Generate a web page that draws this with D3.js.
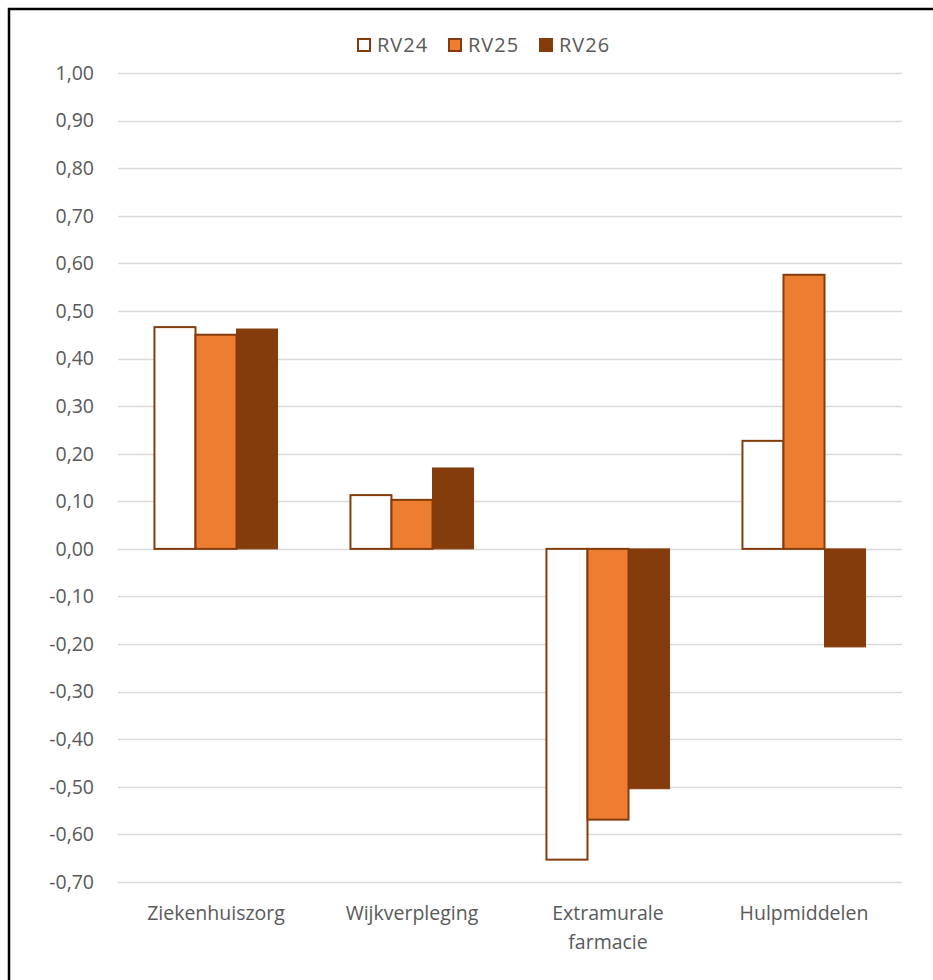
<!DOCTYPE html>
<html>
<head>
<meta charset="utf-8">
<script src="https://cdn.jsdelivr.net/npm/d3@7"></script>
<style>
  body { margin: 0; background: #fff; }
  text { font-family: "Open Sans", "Noto Sans", sans-serif; fill: #595959; }
</style>
</head>
<body>
<div id="chart"></div>
<script>
const categories = ["Ziekenhuiszorg", "Wijkverpleging", "Extramurale farmacie", "Hulpmiddelen"];
const seriesNames = ["RV24", "RV25", "RV26"];
const rv24 = [0.466, 0.113, -0.653, 0.227];
const rv25 = [0.450, 0.103, -0.569, 0.576];
const rv26 = [0.462, 0.170, -0.504, -0.206];
const yTicks = [1.0, 0.9, 0.8, 0.7, 0.6, 0.5, 0.4, 0.3, 0.2, 0.1, 0, -0.1, -0.2, -0.3, -0.4, -0.5, -0.6, -0.7];

const fills = ["#ffffff", "#ed7d31", "#843c0c"];
const strokes = ["#843c0c", "#843c0c", "#843c0c"];

const W = 933, H = 980;
const margin = { top: 73, right: 31, bottom: 98, left: 118 };

const svg = d3.select("#chart").append("svg")
    .attr("width", W)
    .attr("height", H);

// outer frame (runs off the right and bottom edge like the source)
svg.append("rect")
    .attr("x", 9).attr("y", 9)
    .attr("width", 960).attr("height", 1000)
    .attr("fill", "none")
    .attr("stroke", "#000")
    .attr("stroke-width", 2.5);

const x0 = d3.scaleBand()
    .domain(categories)
    .range([margin.left, W - margin.right])
    .paddingInner(0.372)
    .paddingOuter(0.186);

const x1 = d3.scaleBand()
    .domain(seriesNames)
    .range([0, x0.bandwidth()]);

const y = d3.scaleLinear()
    .domain([-0.7, 1.0])
    .range([H - margin.bottom, margin.top]);

// gridlines
svg.append("g")
    .selectAll("line")
    .data(yTicks)
    .enter()
    .append("line")
    .attr("x1", margin.left)
    .attr("x2", W - margin.right)
    .attr("y1", d => Math.round(y(d)) + 0.5)
    .attr("y2", d => Math.round(y(d)) + 0.5)
    .style("stroke", "#d9d9d9")
    .style("stroke-width", 1.5);

// y labels
const fmt = d => d3.format(".2f")(d).replace(".", ",").replace("−", "-");
svg.append("g")
    .selectAll("text")
    .data(yTicks)
    .enter()
    .append("text")
    .attr("x", 94)
    .attr("y", d => y(d))
    .attr("dy", "0.35em")
    .attr("text-anchor", "end")
    .style("font-size", "19.5px")
    .text(fmt);

// bars
const series = [rv24, rv25, rv26];
series.forEach((vals, s) => {
    svg.append("g")
        .selectAll("rect")
        .data(vals)
        .enter()
        .append("rect")
        .attr("x", (d, i) => x0(categories[i]) + x1(seriesNames[s]))
        .attr("y", d => y(Math.max(0, d)))
        .attr("width", x1.bandwidth())
        .attr("height", d => Math.abs(y(d) - y(0)))
        .attr("fill", fills[s])
        .attr("stroke", strokes[s])
        .attr("stroke-width", s === 2 ? 1 : 2);
});

// category labels
const catG = svg.append("g");
categories.forEach(c => {
    const words = c === "Extramurale farmacie" ? ["Extramurale", "farmacie"] : [c];
    words.forEach((w, k) => {
        catG.append("text")
            .attr("x", x0(c) + x0.bandwidth() / 2)
            .attr("y", 920 + k * 29)
            .attr("text-anchor", "middle")
            .style("font-size", "19.5px")
            .text(w);
    });
});

// legend
const legendX = [357, 448, 539];
const legend = svg.append("g");
seriesNames.forEach((n, s) => {
    legend.append("rect")
        .attr("x", legendX[s] + 1)
        .attr("y", 39)
        .attr("width", 12)
        .attr("height", 12)
        .attr("fill", fills[s])
        .attr("stroke", strokes[s])
        .attr("stroke-width", 2);
    legend.append("text")
        .attr("x", legendX[s] + 20)
        .attr("y", 45)
        .attr("dy", "0.35em")
        .style("font-size", "20px")
        .style("letter-spacing", "1px")
        .text(n);
});
</script>
</body>
</html>
